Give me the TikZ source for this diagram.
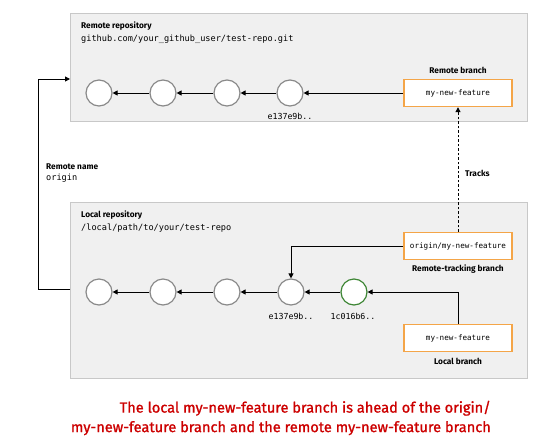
\documentclass[tikz,border=0pt]{standalone}
\usepackage{fontspec}
\setmainfont{Fira Sans}
\setmonofont{DejaVu Sans Mono}
\newfontfamily\redfont[FakeBold=1.2]{Fira Sans}
\usetikzlibrary{arrows.meta}
\definecolor{repobg}{HTML}{F0F0F0}
\definecolor{repoline}{HTML}{C8C8C8}
\definecolor{brorange}{HTML}{F4A548}
\definecolor{cgray}{HTML}{8A8A8A}
\definecolor{cgreen}{HTML}{3E8635}
\definecolor{msgred}{HTML}{CC0000}
\tikzset{
  repo/.style={draw=repoline, fill=repobg, line width=0.8pt},
  commit/.style={circle, draw=cgray, fill=white, line width=1.2pt, minimum size=26pt, inner sep=0pt},
  newcommit/.style={commit, draw=cgreen},
  branchbox/.style={draw=brorange, fill=white, line width=1.4pt, minimum width=108pt, minimum height=27pt, inner sep=0pt, font=\ttfamily\fontsize{7.6}{9}\selectfont},
  title/.style={font=\bfseries\fontsize{8.3}{10}\selectfont, inner sep=0pt},
  path/.style={font=\ttfamily\fontsize{8.6}{10}\selectfont, inner sep=0pt},
  hash/.style={font=\ttfamily\fontsize{8.3}{10}\selectfont, inner sep=0pt},
  conn/.style={line width=1pt, -{Triangle[length=5pt,width=5pt]}},
}
\begin{document}
\begin{tikzpicture}[x=1pt,y=-1pt]
\useasboundingbox (0,0) rectangle (554,442);
% repositories
\draw[repo] (70,13) rectangle (527,121);
\draw[repo] (70,202) rectangle (527,378);
\node[title, anchor=west] (rtitle) at (81,26) {Remote repository};
\node[path, anchor=west] (rpath) at (81,39) {github.com/your\_github\_user/test-repo.git};
\node[title, anchor=west] (ltitle) at (81,215) {Local repository};
\node[path, anchor=west] (lpath) at (81,228) {/local/path/to/your/test-repo};
% remote commits
\node[commit] (r1) at (99,93) {};
\node[commit] (r2) at (163,93) {};
\node[commit] (r3) at (227,93) {};
\node[commit] (r4) at (290,93) {};
\node[hash] (rh) at (290,116) {e137e9b..};
\node[branchbox] (rb) at (458,93) {my-new-feature};
\node[title] (rbl) at (458,70) {Remote branch};
\draw[conn] (r2) -- (r1);
\draw[conn] (r3) -- (r2);
\draw[conn] (r4) -- (r3);
\draw[conn] (rb) -- (r4);
% local commits
\node[commit] (l1) at (99,292) {};
\node[commit] (l2) at (163,292) {};
\node[commit] (l3) at (227,292) {};
\node[commit] (l4) at (291,292) {};
\node[newcommit] (l5) at (354,292) {};
\node[hash] (lh4) at (291,316) {e137e9b..};
\node[hash] (lh5) at (353,316) {1c016b6..};
\node[branchbox] (ob) at (458,246) {origin/my-new-feature};
\node[title] (obl) at (458,269) {Remote-tracking branch};
\node[branchbox] (lb) at (458,338) {my-new-feature};
\node[title] (lbl) at (458,361) {Local branch};
\draw[conn] (l2) -- (l1);
\draw[conn] (l3) -- (l2);
\draw[conn] (l4) -- (l3);
\draw[conn] (l5) -- (l4);
\draw[conn] (ob.west) -| (l4.north);
\draw[conn] (lb.north) |- (l5.east);
% tracking
\draw[line width=1pt, dash pattern=on 2.5pt off 2pt, -{Triangle[length=5pt,width=5pt]}] (ob.north) -- (rb.south);
\node[title, anchor=west] (tr) at (465,173) {Tracks};
% remote name
\coordinate (lleft) at (70,289);
\coordinate (rleft) at (70,79);
\draw[conn] (lleft) -- (38,289) -- (38,79) -- (rleft);
\node[title, anchor=west] (rn) at (46,167) {Remote name};
\node[path, anchor=west] (rno) at (46,178) {origin};
% message
\node[anchor=east, align=right, text=msgred, font=\redfont\fontsize{14.6}{19.5}\selectfont, inner sep=0pt] (msg) at (491,418)
  {The local my-new-feature branch is ahead of the origin/\\my-new-feature branch and the remote my-new-feature branch};
\end{tikzpicture}
\end{document}
